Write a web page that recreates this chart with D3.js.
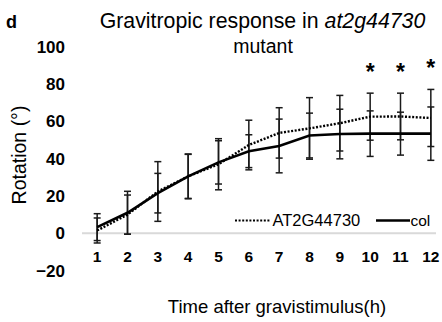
<!DOCTYPE html>
<html>
<head>
<meta charset="utf-8">
<script src="https://cdn.jsdelivr.net/npm/d3@7"></script>
<style>
  html, body { margin: 0; padding: 0; background: #fff; }
  svg { display: block; font-family: "Liberation Sans", Arial, sans-serif; }
</style>
</head>
<body>
<svg id="chart" width="442" height="322"></svg>
<script>
// ---- data ----
const hours = [1, 2, 3, 4, 5, 6, 7, 8, 9, 10, 11, 12];
const colMean = [3.3, 11, 21.5, 30.5, 38, 44, 46.8, 52.4, 53.2, 53.4, 53.4, 53.4];
const colSD   = [7.2, 11.5, 10.6, 11.8, 11.6, 8.8, 14.4, 12, 13.3, 12.2, 11.5, 14.3];
const atMean  = [1.5, 10, 22.4, 30.5, 37, 47.3, 53.8, 56.2, 59, 62.5, 62.6, 61.8];
const atSD    = [6.7, 10.5, 16, 12, 13.7, 13.3, 13.5, 16.5, 14.9, 12.6, 12.5, 15.3];
const significant = [10, 11, 12];
const yTicks = [-20, 0, 20, 40, 60, 80, 100];
const seriesNames = ["AT2G44730", "col"];

const svg = d3.select("#chart");

const x = d3.scaleBand().domain(hours).range([82, 446]).padding(0);
const cx = h => x(h) + x.bandwidth() / 2;
const y = d3.scaleLinear().domain([-20, 100]).range([270.6, 46.7]);

// zero line
svg.append("line")
  .attr("x1", 82).attr("x2", 436)
  .attr("y1", y(0)).attr("y2", y(0))
  .attr("stroke", "#d9d9d9").attr("stroke-width", 2);

// y axis (labels only)
const yAxis = svg.append("g")
  .attr("transform", "translate(70,0)")
  .call(d3.axisLeft(y).tickValues(yTicks).tickSize(0).tickPadding(5).tickFormat(d3.format("d")));
yAxis.select(".domain").remove();
yAxis.selectAll("text")
  .attr("font-family", "Liberation Sans, Arial, sans-serif")
  .attr("font-size", 17).attr("font-weight", "bold").attr("fill", "#000");

// x axis (labels only)
const xAxis = svg.append("g")
  .attr("transform", "translate(0,248)")
  .call(d3.axisBottom(x).tickSize(0).tickPadding(3));
xAxis.select(".domain").remove();
xAxis.selectAll("text")
  .attr("font-family", "Liberation Sans, Arial, sans-serif")
  .attr("font-size", 15.5).attr("font-weight", "bold").attr("fill", "#000");

// error bars
function errorBars(means, sds) {
  const g = svg.append("g").attr("stroke", "#1a1a1a").attr("stroke-width", 1.5);
  hours.forEach((h, i) => {
    const top = y(means[i] + sds[i]), bot = y(means[i] - sds[i]), xx = cx(h);
    g.append("line").attr("x1", xx).attr("x2", xx).attr("y1", top).attr("y2", bot);
    g.append("line").attr("x1", xx - 3.5).attr("x2", xx + 3.5).attr("y1", top).attr("y2", top);
    g.append("line").attr("x1", xx - 3.5).attr("x2", xx + 3.5).attr("y1", bot).attr("y2", bot);
  });
}
errorBars(atMean, atSD);
errorBars(colMean, colSD);

// lines
const lineGen = vals => d3.line().x((d, i) => cx(hours[i])).y(d => y(d))(vals);
svg.append("path").attr("d", lineGen(atMean))
  .attr("fill", "none").attr("stroke", "#000").attr("stroke-width", 2.4)
  .attr("stroke-dasharray", "2,1.6");
svg.append("path").attr("d", lineGen(colMean))
  .attr("fill", "none").attr("stroke", "#000").attr("stroke-width", 2.6);

// significance asterisks
significant.forEach(h => {
  const i = hours.indexOf(h);
  svg.append("text")
    .attr("x", cx(h)).attr("y", y(atMean[i] + atSD[i]) - 13)
    .attr("text-anchor", "middle")
    .attr("font-size", 23).attr("font-weight", "bold")
    .text("*");
});

// legend
svg.append("line").attr("x1", 235).attr("x2", 270).attr("y1", 220.5).attr("y2", 220.5)
  .attr("stroke", "#000").attr("stroke-width", 2.2).attr("stroke-dasharray", "2,1.6");
svg.append("text").attr("x", 272.5).attr("y", 226).attr("font-size", 16.5).text(seriesNames[0]);
svg.append("line").attr("x1", 376).attr("x2", 410).attr("y1", 220.5).attr("y2", 220.5)
  .attr("stroke", "#000").attr("stroke-width", 2.6);
svg.append("text").attr("x", 410.5).attr("y", 226).attr("font-size", 15.5).text(seriesNames[1]);

// panel label
svg.append("text").attr("x", 6).attr("y", 28).attr("font-size", 18).attr("font-weight", "bold").text("d");

// title
const title = svg.append("text").attr("x", 262.5).attr("y", 28)
  .attr("text-anchor", "middle").attr("font-size", 21.3);
title.append("tspan").text("Gravitropic response in ");
title.append("tspan").attr("font-style", "italic").text("at2g44730");
svg.append("text").attr("x", 263).attr("y", 53.3)
  .attr("text-anchor", "middle").attr("font-size", 19.5).text("mutant");

// axis titles
svg.append("text")
  .attr("transform", "translate(26,155) rotate(-90)")
  .attr("text-anchor", "middle").attr("font-size", 19.5).text("Rotation (°)");
svg.append("text").attr("x", 277).attr("y", 312.7)
  .attr("text-anchor", "middle").attr("font-size", 18.5).text("Time after gravistimulus(h)");
</script>
</body>
</html>
